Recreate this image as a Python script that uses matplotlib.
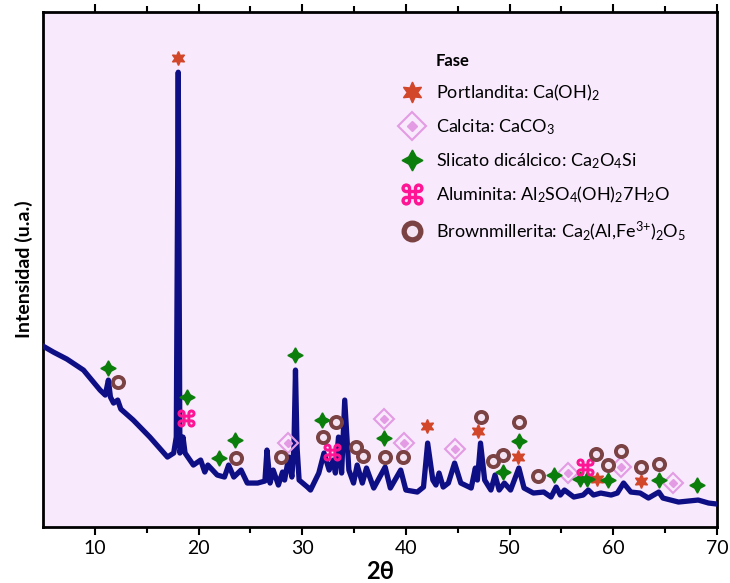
import matplotlib
matplotlib.use("Agg")
import matplotlib.pyplot as plt
from matplotlib.lines import Line2D

plt.rcParams['font.family'] = ['Lato', 'DejaVu Sans']
plt.rcParams['mathtext.fontset'] = 'dejavusans'

# --- XRD pattern (2theta, intensity in arbitrary units) ---
two_theta = [5.0, 6.0, 7.3, 8.9, 10.5, 11.0, 11.3, 11.5, 11.8, 12.2, 12.5, 13.7, 15.3,
             17.0, 17.6, 17.85, 18.04, 18.2, 18.5, 18.7, 19.5, 20.2, 20.6, 20.9,
             21.8, 22.5, 22.9, 23.4, 24.1, 24.7, 25.7, 26.4, 26.6, 26.9, 27.2, 27.7,
             28.1, 28.3, 28.7, 29.0, 29.2, 29.35, 29.5, 29.7, 30.5, 30.8, 31.6, 32.1,
             32.6, 33.0, 33.2, 33.5, 33.8, 34.1, 34.5, 34.95, 35.3, 35.8, 36.2, 36.9,
             38.0, 38.5, 39.5, 40.0, 41.1, 41.7, 42.1, 42.6, 42.9, 43.2, 43.6, 44.1,
             44.7, 45.3, 46.3, 46.7, 46.9, 47.2, 47.6, 48.2, 48.6, 49.0, 49.5, 50.1,
             50.9, 51.4, 52.3, 53.3, 54.0, 54.5, 54.9, 55.3, 56.2, 57.1, 57.6, 58.1,
             58.8, 59.8, 60.4, 61.0, 61.7, 62.6, 63.4, 64.4, 64.8, 66.3, 68.2, 69.2, 70.0]
intensity = [181, 175, 168, 157, 137, 132, 147, 130, 124, 127, 118, 107, 90,
             70, 74, 90, 455, 74, 90, 74, 62, 67, 55, 62,
             52, 50, 62, 50, 57, 44, 44, 46, 77, 44, 57, 42,
             55, 47, 70, 50, 80, 157, 80, 47, 40, 37, 54, 74,
             57, 67, 54, 90, 54, 127, 57, 44, 62, 44, 59, 39,
             60, 39, 57, 37, 35, 40, 84, 47, 42, 54, 40, 44,
             64, 44, 39, 59, 47, 84, 47, 37, 52, 37, 44, 37,
             59, 39, 34, 35, 30, 40, 32, 37, 30, 32, 37, 32,
             34, 32, 34, 44, 35, 34, 29, 35, 29, 25, 27, 24, 23]

# --- phase markers (2theta, height) ---
portlandita_x = [18.0, 42.0, 47.0, 50.8, 58.4, 62.7]
portlandita_y = [469, 101, 96, 70, 48, 46]
calcita_x = [28.6, 37.9, 39.8, 44.7, 55.6, 60.8, 65.8]
calcita_y = [84, 108, 84, 78, 54, 60, 44]
silicato_x = [11.3, 18.9, 22.0, 23.55, 29.35, 31.9, 37.9, 49.4, 50.9, 54.3, 56.8,
              57.5, 59.5, 64.4, 68.1]
silicato_y = [159, 130, 69, 87, 172, 107, 89, 55, 86, 52, 48, 48, 47, 47, 42]
aluminita_x = [18.8, 32.9, 57.3]
aluminita_y = [109, 75, 60]
brown_x = [12.2, 23.6, 28.0, 32.0, 33.3, 35.2, 35.9, 38.0, 39.7, 47.2, 48.4, 49.4,
           50.9, 52.7, 58.3, 59.5, 60.8, 62.7, 64.4]
brown_y = [145, 69, 70, 90, 105, 80, 71, 70, 70, 110, 66, 72, 105, 51, 73, 62, 76,
           60, 63]

phase_labels = [r'Portlandita: $\mathregular{Ca(OH)_2}$',
                r'Calcita: $\mathregular{CaCO_3}$',
                r'Slicato dicálcico: $\mathregular{Ca_2O_4Si}$',
                r'Aluminita: $\mathregular{Al_2SO_4(OH)_27H_2O}$',
                r'Brownmillerita: $\mathregular{Ca_2(Al{,}Fe^{3{+}})_2O_5}$']

RED = '#D2462A'
PINK = '#E39BE3'
GREEN = '#0B7D0B'
MAGENTA = '#FF1493'
BROWN = '#7A4242'
BG = '#F8E9FD'

fig = plt.figure(figsize=(7.3, 5.83), dpi=100)
ax = fig.add_axes([0.059, 0.096, 0.923, 0.883])
ax.set_facecolor(BG)

ax.plot(two_theta, intensity, color='#0F0F85', lw=3.8, solid_joinstyle='round', zorder=3)

ax.plot(portlandita_x, portlandita_y, ls='none', marker=(6, 1, 0), ms=10,
        color=RED, mec=RED, zorder=4)
ax.plot(calcita_x, calcita_y, ls='none', marker='D', ms=10, mfc='none',
        mec=PINK, mew=1.5, zorder=4)
ax.plot(calcita_x, calcita_y, ls='none', marker='D', ms=4, color=PINK, zorder=4)
ax.plot(silicato_x, silicato_y, ls='none', marker=(4, 1, 0), ms=11,
        color=GREEN, zorder=4)
ax.plot(aluminita_x, aluminita_y, ls='none', marker='$⌘$', ms=12,
        color=MAGENTA, zorder=4)
ax.plot(brown_x, brown_y, ls='none', marker='o', ms=8, mfc='#F3E3F3',
        mec=BROWN, mew=2.8, zorder=4)

handles = [
    Line2D([], [], ls='none', marker=(6, 1, 0), ms=15, color=RED),
    (Line2D([], [], ls='none', marker='D', ms=14, mfc='none', mec=PINK, mew=1.5),
     Line2D([], [], ls='none', marker='D', ms=5, color=PINK)),
    Line2D([], [], ls='none', marker=(4, 1, 0), ms=15, color=GREEN),
    Line2D([], [], ls='none', marker='$⌘$', ms=15, color=MAGENTA),
    Line2D([], [], ls='none', marker='o', ms=12, mfc='#F3E3F3', mec=BROWN, mew=3.8),
]
leg = ax.legend(handles, phase_labels, title='Fase', loc='upper left',
                bbox_to_anchor=(0.521, 0.935), frameon=False, fontsize=13,
                handlelength=1.2, handletextpad=0.7, labelspacing=0.78,
                alignment='left', borderaxespad=0)
leg.get_title().set_fontweight('bold')
leg.get_title().set_fontsize(12)
leg.get_title().set_position((34, 0))

ax.set_xlim(5, 70)
ax.set_ylim(0, 515)
ax.set_xticks([10, 20, 30, 40, 50, 60, 70])
ax.set_xticks([15, 25, 35, 45, 55, 65], minor=True)
ax.set_yticks([])
ax.tick_params(axis='x', labelsize=14, direction='out', length=6, width=1.5,
               top=True)
ax.tick_params(axis='x', which='minor', direction='out', length=4, width=1.5,
               top=True)
for s in ax.spines.values():
    s.set_linewidth(2)

ax.set_xlabel('2θ', fontsize=17, fontweight='bold', labelpad=2)
ax.set_ylabel('Intensidad (u.a.)', fontsize=14, fontweight='bold', labelpad=7)

fig.savefig('out.png', dpi=100)
